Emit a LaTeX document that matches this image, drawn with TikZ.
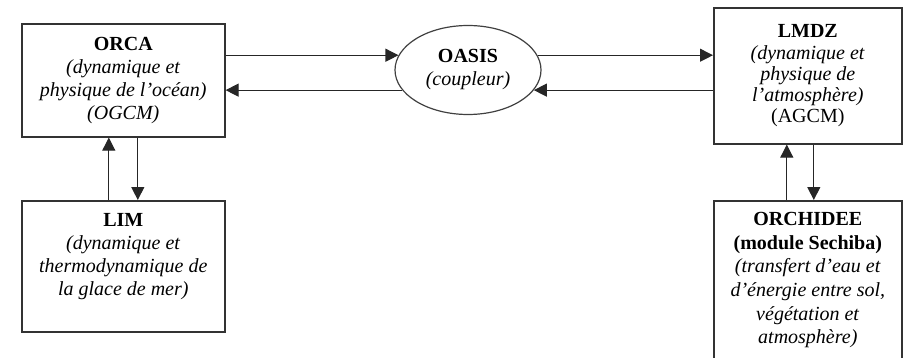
\documentclass[tikz,border=0pt]{standalone}
\usepackage{fontspec}
\setmainfont{Liberation Serif}
\usetikzlibrary{arrows.meta,shapes.geometric}

\tikzset{
	box/.style={draw=black!80, line width=.8pt, anchor=north west, inner sep=0pt},
	txt/.style={align=center, inner sep=0pt, font=\fontsize{10}{11.5}\selectfont},
	flow/.style={-{Triangle[length=6.5pt,width=6.5pt]}, line width=.55pt, black!85}
}

\begin{document}
\begin{tikzpicture}[x=.5pt, y=-.5pt]
		\clip (0,0) rectangle (910,358);

		% Ocean side
		\node[box, txt, minimum width=101.5pt, minimum height=56.5pt] (orca) at (21,23)
			{\textbf{ORCA}\\\textit{(dynamique et}\\\textit{physique de l’océan)}\\\textit{(OGCM)}};
		\node[box, minimum width=101.5pt, minimum height=65.5pt] (lim) at (21,200) {};
		\node[txt, anchor=north] (limtxt) at ([yshift=-6.5pt]lim.north)
			{\textbf{LIM}\\\textit{(dynamique et}\\\textit{thermodynamique de}\\\textit{la glace de mer)}};

		% Coupler
		\node[ellipse, draw=black!75, line width=.6pt, minimum width=73pt, minimum height=44.5pt,
			txt, inner sep=0pt] (oasis) at (468,70) {\textbf{OASIS}\\\textit{(coupleur)}};

		% Atmosphere side
		\node[box, minimum width=94pt, minimum height=68pt] (lmdz) at (713,7) {};
		\node[txt, font=\fontsize{10}{10.6}\selectfont] (lmdztxt) at (lmdz.center)
			{\textbf{LMDZ}\\\textit{(dynamique et}\\\textit{physique de}\\\textit{l’atmosphère)}\\(AGCM)};
		\node[box, minimum width=94pt, minimum height=90pt] (orchidee) at (713,200) {};
		\node[txt, font=\fontsize{10}{11.8}\selectfont, anchor=north] (orchideetxt) at ([yshift=-6pt]orchidee.north)
			{\textbf{ORCHIDEE}\\\textbf{(module Sechiba)}\\\textit{(transfert d’eau et}\\\textit{d’énergie entre sol,}\\\textit{végétation et}\\\textit{atmosphère)}};

		% Exchanges with the coupler
		\draw[flow] (orca.east |- oasis.168) -- (oasis.168);
		\draw[flow] (oasis.197) -- (orca.east |- oasis.197);
		\draw[flow] (oasis.12) -- (lmdz.west |- oasis.12);
		\draw[flow] (lmdz.west |- oasis.-17) -- (oasis.-17);

		% Vertical exchanges
		\draw[flow] ([xshift=-7.25pt]lim.north) -- ([xshift=-7.25pt]orca.south);
		\draw[flow] ([xshift=7.25pt]orca.south) -- ([xshift=7.25pt]lim.north);
		\draw[flow] ([xshift=-10.5pt]orchidee.north) -- ([xshift=-10.5pt]lmdz.south);
		\draw[flow] ([xshift=3pt]lmdz.south) -- ([xshift=3pt]orchidee.north);
	\end{tikzpicture}
\end{document}
